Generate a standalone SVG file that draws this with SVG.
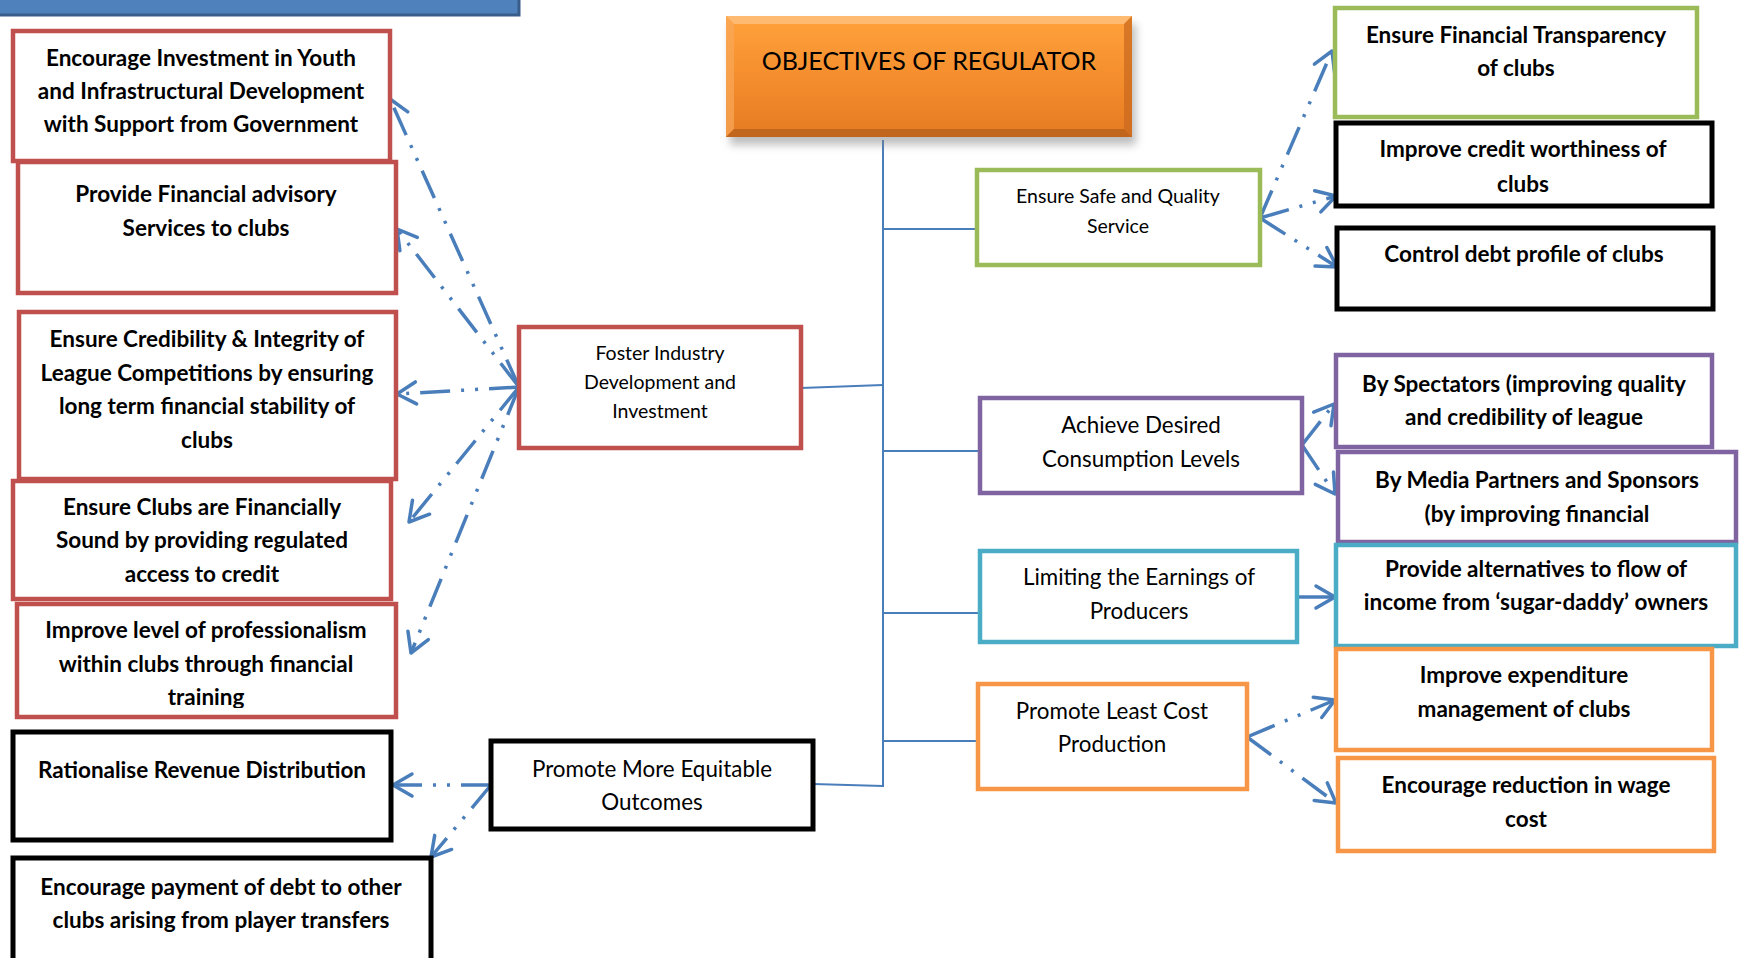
<svg xmlns="http://www.w3.org/2000/svg" width="1739" height="958" viewBox="0 0 1739 958">
  <style>
    .box { fill: #ffffff; }
    .red { stroke: #C0504D; stroke-width: 4.5; }
    .blk { stroke: #000000; stroke-width: 5; }
    .grn { stroke: #9BBB59; stroke-width: 4.5; }
    .pur { stroke: #8064A2; stroke-width: 4.5; }
    .cyn { stroke: #4BACC6; stroke-width: 4.5; }
    .org { stroke: #F79646; stroke-width: 4.5; }
    text { font-family: Lato, "Open Sans", sans-serif; fill: #000; text-anchor: middle; }
    .b { font-weight: 700; font-size: 22.5px; }
    .r { font-weight: 400; font-size: 22.4px; }
    .s { font-weight: 400; font-size: 19.5px; }
    .t { font-weight: 400; font-size: 25px; }
    .tree { stroke: #4A7EBB; stroke-width: 2; fill: none; }
    .link { stroke: #4A7EBB; stroke-width: 3.5; fill: none; stroke-dasharray: 30 11 3 11 3 11; marker-end: url(#head); }
    .solid { stroke-dasharray: none; }
  </style>
  <defs>
    <marker id="head" markerUnits="userSpaceOnUse" markerWidth="40" markerHeight="40" viewBox="-30 -20 40 40" refX="0" refY="0" orient="auto">
      <path d="M-19,-11 L0,0 L-19,11" fill="none" stroke="#4A7EBB" stroke-width="3.5" stroke-linecap="round" stroke-linejoin="round"/>
    </marker>
    <linearGradient id="orangeFill" x1="0" y1="0" x2="0" y2="1">
      <stop offset="0" stop-color="#FFA23C"/>
      <stop offset="0.5" stop-color="#F58E2E"/>
      <stop offset="1" stop-color="#E57B22"/>
    </linearGradient>
    <filter id="shadow" x="-10%" y="-10%" width="120%" height="140%">
      <feGaussianBlur stdDeviation="4"/>
    </filter>
    <clipPath id="clipTraining">
      <rect x="17" y="604" width="379" height="104"/>
    </clipPath>
  </defs>

  <!-- header strip -->
  <rect x="-5" y="-5" width="524" height="20" fill="#4F81BD" stroke="#385D8A" stroke-width="3"/>

  <!-- tree trunk, branches and dotted links -->
  <g id="connectors">
    <line class="tree" x1="883" y1="140" x2="883" y2="787"/>
    <line class="tree" x1="883" y1="229" x2="994" y2="229"/>
    <line class="tree" x1="801" y1="388" x2="883" y2="385"/>
    <line class="tree" x1="883" y1="451" x2="980" y2="451"/>
    <line class="tree" x1="883" y1="613" x2="980" y2="613"/>
    <line class="tree" x1="883" y1="741" x2="978" y2="741"/>
    <line class="tree" x1="813" y1="784" x2="883" y2="786"/>

    <!-- fan from Foster Industry -->
    <path class="link" d="M519,387 L390,99"/>
    <path class="link" d="M519,387 L397,229"/>
    <path class="link" d="M519,387 L397,394"/>
    <path class="link" d="M519,387 L409,522"/>
    <path class="link" d="M519,387 L411,653"/>

    <!-- fan from Promote More Equitable Outcomes -->
    <path class="link" d="M491,785 L393,785"/>
    <path class="link" d="M491,785 L431,857"/>

    <!-- fan from Ensure Safe and Quality Service -->
    <path class="link" d="M1260,218 L1332,51"/>
    <path class="link" d="M1260,218 L1336,196"/>
    <path class="link" d="M1260,218 L1337,267"/>

    <!-- fan from Achieve Desired Consumption Levels -->
    <path class="link" d="M1302,445 L1334,404"/>
    <path class="link" d="M1302,445 L1335,494"/>

    <!-- Limiting the Earnings -->
    <path class="link solid" d="M1297,597 L1335,597"/>

    <!-- fan from Promote Least Cost Production -->
    <path class="link" d="M1247,737 L1335,700"/>
    <path class="link" d="M1247,737 L1336,803"/>
  </g>

  <!-- root -->
  <g id="objectives">
    <rect x="730" y="24" width="406" height="121" fill="#7f7f7f" opacity="0.5" filter="url(#shadow)"/>
    <rect x="726" y="16" width="406" height="121" fill="url(#orangeFill)"/>
    <polygon points="726,16 1132,16 1124,24 734,24" fill="#FFC080" opacity="0.8"/>
    <polygon points="726,16 734,24 734,129 726,137" fill="#F9A85A" opacity="0.7"/>
    <polygon points="1132,16 1124,24 1124,129 1132,137" fill="#C8681E" opacity="0.7"/>
    <polygon points="726,137 734,129 1124,129 1132,137" fill="#B8601C" opacity="0.8"/>
    <text class="t" x="929" y="70">OBJECTIVES OF REGULATOR</text>
  </g>

  <!-- left column -->
  <g id="youth-investment">
    <rect class="box red" x="13" y="31" width="377" height="130"/>
    <text class="b" x="201" y="66">Encourage Investment in Youth</text>
    <text class="b" x="201" y="99">and Infrastructural Development</text>
    <text class="b" x="201" y="132">with Support from Government</text>
  </g>
  <g id="advisory">
    <rect class="box red" x="18" y="162" width="378" height="131"/>
    <text class="b" x="206" y="202">Provide Financial advisory</text>
    <text class="b" x="206" y="236">Services to clubs</text>
  </g>
  <g id="credibility">
    <rect class="box red" x="19" y="312" width="377" height="167"/>
    <text class="b" x="207" y="347">Ensure Credibility &amp; Integrity of</text>
    <text class="b" x="207" y="381">League Competitions by ensuring</text>
    <text class="b" x="207" y="414">long term financial stability of</text>
    <text class="b" x="207" y="448">clubs</text>
  </g>
  <g id="credit-access">
    <rect class="box red" x="13" y="481" width="378" height="118"/>
    <text class="b" x="202" y="515">Ensure Clubs are Financially</text>
    <text class="b" x="202" y="548">Sound by providing regulated</text>
    <text class="b" x="202" y="582">access to credit</text>
  </g>
  <g id="professionalism">
    <rect class="box red" x="17" y="604" width="379" height="113"/>
    <g clip-path="url(#clipTraining)">
      <text class="b" x="206" y="638">Improve level of professionalism</text>
      <text class="b" x="206" y="672">within clubs through financial</text>
      <text class="b" x="206" y="705">training</text>
    </g>
  </g>
  <g id="revenue">
    <rect class="box blk" x="13" y="732" width="378" height="108"/>
    <text class="b" x="202" y="778">Rationalise Revenue Distribution</text>
  </g>
  <g id="debt-payment">
    <rect class="box blk" x="13" y="858" width="418" height="112"/>
    <text class="b" x="221" y="895">Encourage payment of debt to other</text>
    <text class="b" x="221" y="928">clubs arising from player transfers</text>
  </g>

  <!-- middle column -->
  <g id="foster">
    <rect class="box red" x="519" y="327" width="282" height="121"/>
    <text class="s" x="660" y="360">Foster Industry</text>
    <text class="s" x="660" y="389">Development and</text>
    <text class="s" x="660" y="418">Investment</text>
  </g>
  <g id="equitable">
    <rect class="box blk" x="491" y="741" width="322" height="88"/>
    <text class="r" x="652" y="777">Promote More Equitable</text>
    <text class="r" x="652" y="810">Outcomes</text>
  </g>
  <g id="safe-quality">
    <rect class="box grn" x="977" y="170" width="283" height="95"/>
    <text class="s" x="1118" y="203">Ensure Safe and Quality</text>
    <text class="s" x="1118" y="233">Service</text>
  </g>
  <g id="consumption">
    <rect class="box pur" x="980" y="398" width="322" height="95"/>
    <text class="r" x="1141" y="433">Achieve Desired</text>
    <text class="r" x="1141" y="467">Consumption Levels</text>
  </g>
  <g id="earnings">
    <rect class="box cyn" x="980" y="551" width="317" height="91"/>
    <text class="r" x="1139" y="585">Limiting the Earnings of</text>
    <text class="r" x="1139" y="619">Producers</text>
  </g>
  <g id="least-cost">
    <rect class="box org" x="978" y="684" width="269" height="105"/>
    <text class="r" x="1112" y="719">Promote Least Cost</text>
    <text class="r" x="1112" y="752">Production</text>
  </g>

  <!-- right column -->
  <g id="transparency">
    <rect class="box grn" x="1335" y="8" width="362" height="109"/>
    <text class="b" x="1516" y="43">Ensure Financial Transparency</text>
    <text class="b" x="1516" y="76">of clubs</text>
  </g>
  <g id="credit-worthiness">
    <rect class="box blk" x="1336" y="123" width="376" height="83"/>
    <text class="b" x="1523" y="157">Improve credit worthiness of</text>
    <text class="b" x="1523" y="192">clubs</text>
  </g>
  <g id="debt-profile">
    <rect class="box blk" x="1337" y="228" width="376" height="81"/>
    <text class="b" x="1524" y="262">Control debt profile of clubs</text>
  </g>
  <g id="spectators">
    <rect class="box pur" x="1336" y="355" width="376" height="92"/>
    <text class="b" x="1524" y="392">By Spectators (improving quality</text>
    <text class="b" x="1524" y="425">and credibility of league</text>
  </g>
  <g id="media">
    <rect class="box pur" x="1338" y="452" width="398" height="90"/>
    <text class="b" x="1537" y="488">By Media Partners and Sponsors</text>
    <text class="b" x="1537" y="522">(by improving financial</text>
  </g>
  <g id="alternatives">
    <rect class="box cyn" x="1336" y="545" width="400" height="101"/>
    <text class="b" x="1536" y="577">Provide alternatives to flow of</text>
    <text class="b" x="1536" y="610">income from ‘sugar-daddy’ owners</text>
  </g>
  <g id="expenditure">
    <rect class="box org" x="1336" y="649" width="376" height="101"/>
    <text class="b" x="1524" y="683">Improve expenditure</text>
    <text class="b" x="1524" y="717">management of clubs</text>
  </g>
  <g id="wage-cost">
    <rect class="box org" x="1338" y="758" width="376" height="93"/>
    <text class="b" x="1526" y="793">Encourage reduction in wage</text>
    <text class="b" x="1526" y="827">cost</text>
  </g>
</svg>
